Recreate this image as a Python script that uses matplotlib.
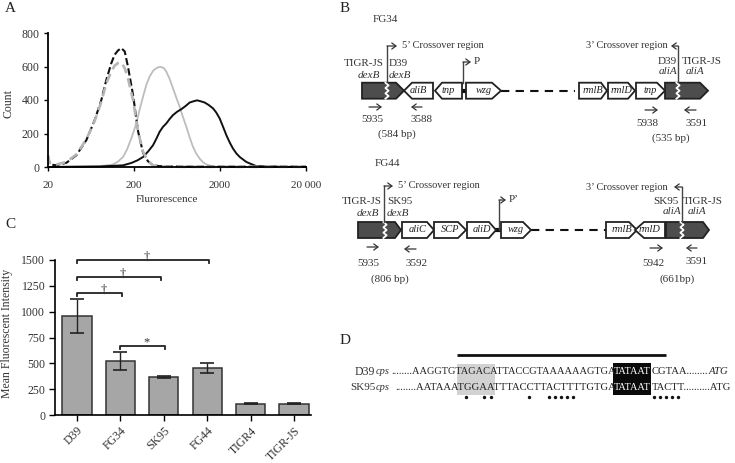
import matplotlib
matplotlib.use("Agg")
import matplotlib.pyplot as plt
from matplotlib.patches import Polygon, Rectangle

plt.rcParams["font.family"] = ["Liberation Serif", "DejaVu Serif"]
TEXT = "#333333"
W, H = 735, 463

# Panel A: flow cytometry histograms
dash_black_x = [20, 20.9, 25, 32.7, 42.7, 55.8, 69.8, 83.4, 95.3, 109, 119, 130, 142, 156, 170, 195, 223, 255, 291, 333, 397, 800, 3000, 20000]
dash_black_y = [60, 15, 10, 25, 70, 160, 280, 400, 520, 620, 670, 695, 710, 690, 600, 430, 213, 84, 34, 10, 5, 2, 2, 2]
dash_gray_x = [20, 20.9, 25, 32.7, 42.7, 55.8, 69.8, 83.4, 95.3, 109, 119, 130, 142, 156, 170, 195, 223, 255, 291, 333, 397, 800, 3000, 20000]
dash_gray_y = [70, 25, 15, 30, 75, 165, 275, 390, 500, 570, 605, 620, 625, 590, 530, 400, 210, 90, 35, 10, 3, 1, 1, 1]
solid_gray_x = [20, 80, 114, 130, 149, 166, 186, 213, 233, 255, 278, 304, 334, 364, 390, 416, 445, 475, 520, 568, 620, 679, 740, 812, 890, 971, 1060, 1161, 1270, 1387, 1659, 1982, 20000]
solid_gray_y = [0, 5, 15, 32, 60, 105, 170, 260, 345, 420, 490, 540, 575, 590, 597, 597, 590, 570, 525, 470, 415, 360, 300, 240, 175, 120, 80, 50, 28, 15, 3, 0, 0]
solid_black_x = [20, 80, 149, 186, 220, 255, 291, 333, 365, 397, 435, 475, 520, 568, 635, 710, 800, 888, 980, 1081, 1200, 1326, 1480, 1659, 1810, 1982, 2170, 2371, 2590, 2833, 3090, 3388, 4050, 5288, 6914, 20000]
solid_black_y = [0, 3, 10, 24, 40, 60, 92, 130, 170, 210, 240, 260, 287, 310, 330, 345, 365, 385, 392, 398, 392, 385, 370, 350, 325, 290, 240, 190, 147, 110, 82, 60, 30, 5, 2, 0]

# Panel C: mean fluorescent intensity
strains = ["D39", "FG34", "SK95", "FG44", "TIGR4", "TIGR-JS"]
mfi = [960, 520, 370, 455, 110, 110]
err_low = [165, 85, 10, 45, 4, 4]
err_high = [160, 90, 10, 50, 4, 4]
# from bar, to bar, height, sign
brackets = [(0, 3.05, 1500, "†"), (0, 1.93, 1335, "†"), (0, 1.03, 1180, "†"), (1, 2.03, 670, "*")]

# Panel D: promoter sequences
d39_seq = ["........AAGGTGTAGACATTACCGTAAAAAAGTGA", "TATAAT", "CGTAA........", "ATG"]
sk95_seq = ["........AATAAATGGAATTTACCTTACTTTTGTGA", "TATAAT", "TACTT..........ATG"]
match_dots = [466, 484, 491, 529, 549, 555, 561, 567, 573, 654, 660, 666, 672, 678]


def axes_px(fig, left, top, right, bottom):
    return fig.add_axes([left / W, 1 - bottom / H, (right - left) / W, (bottom - top) / H])


def txt(ax, x, y, s, size=8, ha="center", va="center", **kw):
    kw.setdefault("color", TEXT)
    ax.text(x, y, s, fontsize=size, ha=ha, va=va, **kw)


def gene(ax, x0, x1, xb, y, name=None, h=8, face="white", edge="#222222"):
    # x0 flat end, x1 tip, xb where the point starts
    pts = [(x0, y - h), (xb, y - h), (x1, y), (xb, y + h), (x0, y + h)]
    ax.add_patch(Polygon(pts, closed=True, fc=face, ec=edge, lw=1.3, zorder=3))
    if name:
        txt(ax, (x0 + x1) / 2, y, name, size=7.5, style="italic", color="#222222", zorder=4)


def zigzag(ax, x, y, h=8):
    n = 7
    xs = [x + (1.6 if i % 2 else -1.6) for i in range(n)]
    ys = [y - h + 2 * h * i / (n - 1) for i in range(n)]
    ax.plot(xs, ys, color="white", lw=1.3, zorder=5)


def head(ax, x0, y0, x1, y1, color="#333333"):
    ax.annotate("", xy=(x1, y1), xytext=(x0, y0),
                arrowprops=dict(arrowstyle="->,head_length=0.3,head_width=0.22", color=color, lw=0.9,
                                shrinkA=0, shrinkB=0), zorder=6)


def bent(ax, x, y0, y1, x1):
    ax.plot([x, x], [y0, y1], color="#444444", lw=1, zorder=6)
    head(ax, x, y1, x1, y1)


fig = plt.figure(figsize=(W / 100, H / 100), dpi=100, facecolor="white")

# A
ax = axes_px(fig, 48, 33, 306, 167)
ax.set_xscale("log")
ax.plot(solid_gray_x, solid_gray_y, color="#bdbdbd", lw=1.3, clip_on=False)
ax.plot(solid_black_x, solid_black_y, color="#111111", lw=1.4, clip_on=False)
ax.plot(dash_black_x, dash_black_y, color="#111111", lw=1.5, ls=(0, (3.5, 1.5)), clip_on=False)
ax.plot(dash_gray_x, dash_gray_y, color="#b5b5b5", lw=1.9, ls=(0, (3.5, 2)), clip_on=False)
ax.set_xlim(20, 20000)
ax.set_ylim(0, 800)
ax.set_xticks([20, 200, 2000, 20000])
ax.set_xticklabels(["20", "200", "2000", "20 000"], fontsize=8, color=TEXT)
ax.minorticks_off()
ax.set_yticks([0, 200, 400, 600, 800])
ax.set_yticklabels(["0", "200", "400", "600", "800"], fontsize=8.5, color=TEXT)
ax.tick_params(length=3, width=1, pad=3)
ax.tick_params(axis="x", pad=7)
for s in ["top", "right"]:
    ax.spines[s].set_visible(False)
for s in ["left", "bottom"]:
    ax.spines[s].set_linewidth(1.3)
ax.patch.set_alpha(0)

# C
ax = axes_px(fig, 55, 260, 311, 415)
pos = list(range(len(strains)))
ax.bar(pos, mfi, width=0.675, color="#a6a6a6", edgecolor="#333333", lw=1.1)
ax.errorbar(pos, mfi, yerr=[err_low, err_high], fmt="none", ecolor="#222222", elinewidth=1, capsize=5, capthick=1.2)
for a, b, y, mark in brackets:
    ax.plot([a, a, b, b], [y - 30, y, y, y - 30], color="#222222", lw=1.3, clip_on=False)
    ax.text((a + b) / 2 + 0.09, y + 30, mark, fontsize=9, ha="center", va="center", color=TEXT)
ax.set_xlim(-0.507, 5.39)
ax.set_ylim(0, 1500)
ax.set_xticks(pos)
ax.set_xticklabels(strains, rotation=45, ha="right", rotation_mode="anchor", fontsize=8.5, color=TEXT)
ax.set_yticks([0, 250, 500, 750, 1000, 1250, 1500])
ax.set_yticklabels(["0", "250", "500", "750", "1000", "1250", "1500"], fontsize=8.5, color=TEXT)
ax.tick_params(length=4, width=1, pad=3)
for s in ["top", "right"]:
    ax.spines[s].set_visible(False)
for s in ["left", "bottom"]:
    ax.spines[s].set_linewidth(1.2)
ax.patch.set_alpha(0)

# overlay in reference pixels for the schematic and loose text
d = fig.add_axes([0, 0, 1, 1], zorder=5)
d.set_xlim(0, W)
d.set_ylim(H, 0)
d.axis("off")

txt(d, 10, 8, "A", size=11, color="#222222")
txt(d, 345, 8, "B", size=11, color="#222222")
txt(d, 10, 224, "C", size=11, color="#222222")
txt(d, 345, 341, "D", size=11, color="#222222")
txt(d, 9, 103, "Count", size=8.5, rotation=90)
txt(d, 167, 200, "Flurorescence", size=8)
txt(d, 7, 333, "Mean Fluorescent Intensity", size=8.5, rotation=90)

# B, FG34
y = 90.7
txt(d, 373, 20, "FG34", ha="left", size=8)
d.plot([501, 575], [y, y], color="#111111", lw=1.5, ls=(0, (4, 3)))
d.plot([462, 466], [y, y], color="#111111", lw=3)
gene(d, 362, 404, 396, y, face="#4d4d4d")
zigzag(d, 387, y)
gene(d, 433, 404, 412, y, "aliB")
gene(d, 462, 435, 442, y, "tnp")
gene(d, 466, 501, 492, y, "wzg")
gene(d, 579, 607, 601, y, "rmlB")
gene(d, 608, 635, 628, y, "rmlD")
gene(d, 636, 665, 657, y, "tnp")
gene(d, 665, 708, 700, y, face="#4d4d4d")
zigzag(d, 678, y)
bent(d, 387, 82, 46, 397)
txt(d, 402, 46, "5’ Crossover region", ha="left", size=7.5)
bent(d, 463, 83, 62, 471)
txt(d, 474, 62, "P", ha="left")
bent(d, 678, 82, 46, 671)
txt(d, 668, 46, "3’ Crossover region", ha="right", size=7.5)
txt(d, 384, 63, "TIGR-JS", ha="right")
txt(d, 389, 63, "D39", ha="left")
txt(d, 369, 75, "dexB", style="italic")
txt(d, 400, 75, "dexB", style="italic")
txt(d, 677, 62, "D39", ha="right")
txt(d, 682, 62, "TIGR-JS", ha="left")
txt(d, 668, 72, "aliA", style="italic")
txt(d, 695, 72, "aliA", style="italic")
head(d, 369, 107, 382, 107)
head(d, 422, 107, 411, 107)
head(d, 645, 110, 658, 110)
head(d, 696, 110, 684, 110)
txt(d, 372, 120, "5935")
txt(d, 422, 120, "3588")
txt(d, 397, 134, "(584 bp)")
txt(d, 647, 124, "5938")
txt(d, 697, 124, "3591")
txt(d, 671, 138, "(535 bp)")

# B, FG44
y = 230
txt(d, 375, 163, "FG44", ha="left", size=8)
d.plot([531, 606], [y, y], color="#111111", lw=1.5, ls=(0, (4, 3)))
d.plot([496, 501], [y, y], color="#111111", lw=3)
gene(d, 358, 401, 395, y, face="#4d4d4d")
zigzag(d, 385, y)
gene(d, 402, 434, 427, y, "aliC")
gene(d, 434, 466, 458, y, "SCP")
gene(d, 467, 496, 489, y, "aliD")
gene(d, 501, 531, 523, y, "wzg")
gene(d, 606, 637, 629, y, "rmlB")
gene(d, 665, 635, 644, y, "rmlD")
gene(d, 666, 709, 703, y, face="#4d4d4d")
zigzag(d, 682, y)
bent(d, 384, 222, 186, 393)
txt(d, 398, 186, "5’ Crossover region", ha="left", size=7.5)
bent(d, 499, 230, 200, 506)
txt(d, 509, 200, "P’", ha="left")
bent(d, 682, 222, 187, 674)
txt(d, 668, 187, "3’ Crossover region", ha="right", size=7.5)
txt(d, 382, 202, "TIGR-JS", ha="right")
txt(d, 387, 202, "SK95", ha="left")
txt(d, 368, 214, "dexB", style="italic")
txt(d, 398, 214, "dexB", style="italic")
txt(d, 679, 202, "SK95", ha="right")
txt(d, 683, 202, "TIGR-JS", ha="left")
txt(d, 672, 212, "aliA", style="italic")
txt(d, 697, 212, "aliA", style="italic")
head(d, 367, 247, 379, 247)
head(d, 416, 249, 404, 249)
head(d, 650, 248, 663, 248)
head(d, 697, 248, 686, 248)
txt(d, 368, 263, "5935")
txt(d, 417, 263, "3592")
txt(d, 390, 279, "(806 bp)")
txt(d, 653, 263, "5942")
txt(d, 697, 262, "3591")
txt(d, 677, 279, "(661bp)")

# D
d.plot([457, 666], [355, 355], color="#111111", lw=2, solid_capstyle="butt")
d.add_patch(Rectangle((457, 364), 38, 31, fc="#d2d2d2", ec="none", zorder=1))
d.add_patch(Rectangle((613, 363), 38, 32, fc="#0a0a0a", ec="none", zorder=1))
txt(d, 355, 372, "D39", ha="left", size=8.5)
txt(d, 376, 372, "cps", ha="left", size=7.5, style="italic")
txt(d, 350, 388, "SK95", ha="left", size=8)
txt(d, 376, 388, "cps", ha="left", size=7.5, style="italic")
seq_size = 7.7
txt(d, 391, 372, d39_seq[0], ha="left", size=7.45, color="#222222")
txt(d, 632, 372, d39_seq[1], size=7.4, color="white", zorder=3)
txt(d, 652, 372, d39_seq[2], ha="left", size=seq_size, color="#222222")
txt(d, 709, 372, d39_seq[3], ha="left", size=seq_size, style="italic", color="#222222")
txt(d, 395, 388, sk95_seq[0], ha="left", size=seq_size, color="#222222")
txt(d, 632, 388, sk95_seq[1], size=7.4, color="white", zorder=3)
txt(d, 652, 388, sk95_seq[2], ha="left", size=seq_size, color="#222222")
d.scatter(match_dots, [397] * len(match_dots), s=6, color="#111111", linewidths=0)

fig.savefig("out.png", dpi=100)
